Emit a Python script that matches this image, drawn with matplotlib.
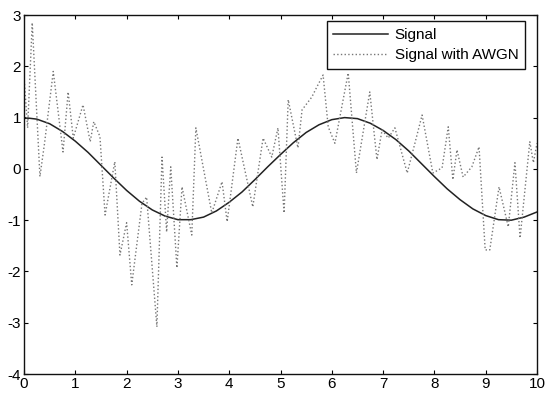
import matplotlib
matplotlib.use("Agg")
import matplotlib.pyplot as plt

plt.rcParams['font.family'] = ['Liberation Sans', 'DejaVu Sans']
plt.rcParams['axes.unicode_minus'] = False

# clean signal
sig_x = [0, 0.25, 0.5, 0.75, 1, 1.25, 1.5, 1.75, 2, 2.25, 2.5, 2.75, 3, 3.25,
         3.5, 3.75, 4, 4.25, 4.5, 4.75, 5, 5.25, 5.5, 5.75, 6, 6.25, 6.5, 6.75,
         7, 7.25, 7.5, 7.75, 8, 8.25, 8.5, 8.75, 9, 9.25, 9.5, 9.75, 10]
sig_y = [1.00, 0.97, 0.88, 0.73, 0.54, 0.32, 0.07, -0.18, -0.42, -0.63, -0.80,
         -0.92, -0.99, -0.99, -0.94, -0.82, -0.65, -0.45, -0.21, 0.04, 0.28,
         0.51, 0.71, 0.86, 0.96, 1.00, 0.98, 0.89, 0.75, 0.57, 0.35, 0.10,
         -0.15, -0.39, -0.60, -0.78, -0.91, -0.99, -1.00, -0.94, -0.84]

# noisy signal vertices
noisy_x = [0, 0.07, 0.16, 0.31, 0.40, 0.57, 0.76, 0.86, 0.96, 1.15, 1.29, 1.36,
           1.48, 1.58, 1.77, 1.87, 2.0, 2.1, 2.3, 2.39, 2.59, 2.69, 2.78, 2.86,
           2.98, 3.08, 3.27, 3.35, 3.66, 3.86, 3.96, 4.17, 4.46, 4.66, 4.83,
           4.95, 5.07, 5.15, 5.34, 5.42, 5.61, 5.71, 5.83, 5.93, 6.06, 6.32,
           6.48, 6.74, 6.88, 6.98, 7.1, 7.23, 7.47, 7.62, 7.76, 7.97, 8.15,
           8.27, 8.36, 8.44, 8.56, 8.73, 8.87, 8.99, 9.08, 9.26, 9.44, 9.57,
           9.67, 9.86, 9.93, 10]
noisy_y = [1.8, 0.8, 2.85, -0.15, 0.5, 1.9, 0.33, 1.5, 0.6, 1.25, 0.53, 0.92,
           0.63, -0.9, 0.14, -1.68, -1.05, -2.26, -0.67, -0.55, -3.08, 0.23,
           -1.23, 0.04, -1.93, -0.35, -1.29, 0.8, -0.86, -0.25, -1.03, 0.6,
           -0.74, 0.6, 0.23, 0.8, -0.86, 1.35, 0.41, 1.15, 1.4, 1.6, 1.83,
           0.82, 0.5, 1.87, -0.08, 1.5, 0.18, 0.76, 0.6, 0.8, -0.08, 0.5,
           1.05, -0.08, 0.02, 0.82, -0.21, 0.37, -0.16, 0.04, 0.43, -1.58,
           -1.58, -0.35, -1.13, 0.12, -1.35, 0.53, 0.12, 0.5]

fig = plt.figure(figsize=(5.46, 3.95), dpi=100)
ax = fig.add_axes([0.044, 0.053, 0.9395, 0.909])

ax.plot(sig_x, sig_y, color='#222222', linewidth=1.1, label='Signal')
ax.plot(noisy_x, noisy_y, color='#777777', linewidth=1.0, linestyle=':',
        label='Signal with AWGN')

ax.set_xlim(0, 10)
ax.set_ylim(-4, 3)
ax.set_xticks(range(0, 11))
ax.set_yticks(range(-4, 4))
ax.tick_params(direction='in', top=True, right=True, length=3,
               labelsize=11, pad=2, width=0.8)
for s in ax.spines.values():
    s.set_linewidth(1.0)
    s.set_color('#111111')

leg = ax.legend(loc='upper right', bbox_to_anchor=(0.977, 0.982),
                fontsize=11, handlelength=3.6, frameon=True, fancybox=False,
                framealpha=1, borderaxespad=0, borderpad=0.45,
                labelspacing=0.4, handletextpad=0.4)
leg.get_frame().set_edgecolor('#111111')
leg.get_frame().set_linewidth(1.0)

fig.savefig('out.png', dpi=100)
